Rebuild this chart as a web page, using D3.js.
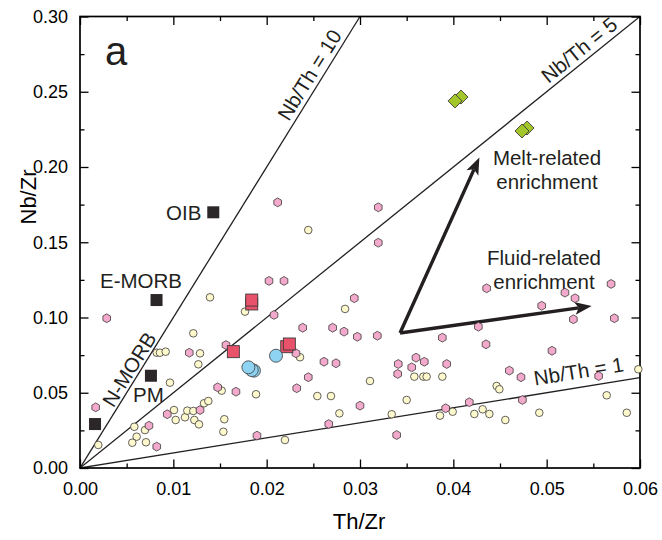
<!DOCTYPE html>
<html lang="en">
  <head>
    <meta charset="utf-8" />
    <title>Nb/Zr vs Th/Zr</title>
    <script src="https://d3js.org/d3.v7.min.js"></script>
    <style>
      body { margin: 0; background: #fff; }
      text { font-family: "Liberation Sans", Arial, sans-serif; }
    </style>
  </head>
  <body>
    <script>
      // data, [Th/Zr, Nb/Zr]
      var pinkPts = [
        [0.00286,0.0995],[0.01171,0.0766],[0.01475,0.0536],[0.00168,0.0403],[0.00739,0.0281],
        [0.00822,0.0142],[0.00935,0.0357],[0.01286,0.0385],[0.01564,0.0817],[0.02025,0.1243],
        [0.02186,0.1243],[0.02079,0.1017],[0.02386,0.0932],[0.02707,0.0932],[0.02829,0.0906],
        [0.02314,0.0762],[0.02614,0.0706],[0.02743,0.0696],[0.02446,0.0603],[0.02322,0.0530],
        [0.02665,0.0292],[0.01671,0.0507],[0.01896,0.0215],[0.02939,0.1128],[0.02971,0.0872],
        [0.03186,0.0879],[0.03882,0.0866],[0.03410,0.0691],[0.03600,0.0733],[0.03554,0.0669],
        [0.03689,0.0706],[0.03929,0.0691],[0.03404,0.0625],[0.03000,0.0414],[0.03918,0.0397],
        [0.04171,0.0437],[0.03393,0.0219],[0.04357,0.1194],[0.05690,0.1223],[0.05196,0.1165],
        [0.05304,0.1128],[0.04947,0.1078],[0.05286,0.0988],[0.05725,0.0995],[0.04268,0.0939],
        [0.04350,0.0822],[0.05057,0.0779],[0.04600,0.0647],[0.04725,0.0603],[0.05557,0.0611],
        [0.04740,0.0452],[0.02118,0.1765],[0.03196,0.1732],[0.03196,0.1497]
      ];
      var yellowPts = [
        [0.01393,0.1134],[0.01214,0.0895],[0.00822,0.0766],[0.00857,0.0766],[0.00918,0.0773],
        [0.01286,0.0762],[0.01268,0.0689],[0.00964,0.0567],[0.01518,0.0514],[0.00582,0.0274],
        [0.00696,0.0252],[0.00607,0.0208],[0.00560,0.0168],[0.00707,0.0171],[0.00196,0.0153],
        [0.01007,0.0385],[0.01025,0.0319],[0.01125,0.0337],[0.01150,0.0381],[0.01214,0.0379],
        [0.01329,0.0430],[0.01375,0.0445],[0.01225,0.0319],[0.01275,0.0290],[0.01536,0.0241],
        [0.01546,0.0324],[0.01768,0.1039],[0.02840,0.1057],[0.02357,0.0736],[0.02543,0.0478],
        [0.02689,0.0478],[0.02779,0.0363],[0.01886,0.0490],[0.02196,0.0186],[0.03582,0.0607],
        [0.03679,0.0607],[0.03714,0.0607],[0.03882,0.0607],[0.03107,0.0578],[0.03500,0.0452],
        [0.03340,0.0357],[0.03993,0.0374],[0.03857,0.0348],[0.04225,0.0359],[0.05982,0.0656],
        [0.04464,0.0545],[0.04493,0.0523],[0.05643,0.0483],[0.04314,0.0390],[0.04386,0.0359],
        [0.04557,0.0319],[0.04921,0.0367],[0.05858,0.0367],[0.02446,0.1581]
      ];
      var redPts = [[0.0184,0.1090],[0.0184,0.1116],[0.01643,0.0773],[0.02215,0.0806],[0.02243,0.0824]];
      var bluePts = [[0.01864,0.0647],[0.0184,0.0651],[0.01804,0.0669],[0.0210,0.0746]];
      var greenPts = [[0.0479,0.2259],[0.04736,0.2239],[0.04082,0.2465],[0.04018,0.2439]];
      var refNames = ["N-MORB", "E-MORB", "PM", "OIB"];
      var refPts = [[0.00161,0.0292],[0.0082,0.1116],[0.0076,0.0613],[0.01428,0.1699]];
      var ratioLines = [10, 5, 1];
      var xTicks = [0, 0.01, 0.02, 0.03, 0.04, 0.05, 0.06];
      var yTicks = [0, 0.05, 0.10, 0.15, 0.20, 0.25, 0.30];
      var arrowBase = [0.03429, 0.0897];
      var meltTip = [0.04279, 0.2063];
      var fluidTip = [0.05482, 0.1076];

      var width = 662, height = 540;
      var ink = "#231f20";

      var x = d3.scaleLinear().domain([0, 0.06]).range([80, 640]);
      var y = d3.scaleLinear().domain([0, 0.3]).range([468, 16.5]);

      var svg = d3.select("body").append("svg")
        .attr("width", width)
        .attr("height", height);

      svg.append("defs").append("clipPath").attr("id", "plot")
        .append("rect")
        .attr("x", x(0)).attr("y", y(0.3))
        .attr("width", x(0.06) - x(0)).attr("height", y(0) - y(0.3));

      // ratio lines
      var lineEnd = function (r) {
        return r >= 5 ? [0.3 / r, 0.3] : [0.06, 0.06 * r];
      };
      svg.append("g").attr("clip-path", "url(#plot)")
        .selectAll("line").data(ratioLines).enter().append("line")
        .attr("x1", x(0)).attr("y1", y(0))
        .attr("x2", function (r) { return x(lineEnd(r)[0]); })
        .attr("y2", function (r) { return y(lineEnd(r)[1]); })
        .style("stroke", ink)
        .style("stroke-width", 1.3);

      // labels that sit on a line
      function lineLabel(r, tx, txt, gap) {
        var px = x(tx), py = y(tx * r);
        var ang = Math.atan2(y(r * 0.01) - y(0), x(0.01) - x(0)) * 180 / Math.PI;
        svg.append("text")
          .attr("transform", "translate(" + px + "," + py + ") rotate(" + ang + ")")
          .attr("dy", -gap)
          .attr("text-anchor", "middle")
          .style("font-size", "20.5px")
          .style("fill", ink)
          .text(txt);
      }
      lineLabel(10, 0.0257, "Nb/Th = 10", 5);
      lineLabel(5, 0.0543, "Nb/Th = 5", 5);
      lineLabel(1, 0.0537, "Nb/Th = 1", 9);
      lineLabel(10, 0.0062, "N-MORB", 3);

      // axes, ticks inward on all sides
      function minor(step, max) {
        return d3.range(step / 2, max, step);
      }
      var frame = svg.append("g");
      frame.append("g").attr("transform", "translate(0," + y(0) + ")")
        .call(d3.axisBottom(x).tickValues(minor(0.01, 0.06)).tickSize(-4.5).tickFormat(""));
      frame.append("g").attr("transform", "translate(0," + y(0) + ")")
        .call(d3.axisBottom(x).tickValues(xTicks).tickSize(-8.5).tickPadding(14.5).tickFormat(d3.format(".2f")));
      frame.append("g").attr("transform", "translate(0," + y(0.3) + ")")
        .call(d3.axisTop(x).tickValues(minor(0.01, 0.06)).tickSize(-4.5).tickFormat(""));
      frame.append("g").attr("transform", "translate(0," + y(0.3) + ")")
        .call(d3.axisTop(x).tickValues(xTicks).tickSize(-8.5).tickFormat(""));
      frame.append("g").attr("transform", "translate(" + x(0) + ",0)")
        .call(d3.axisLeft(y).tickValues(minor(0.05, 0.3)).tickSize(-4.5).tickFormat(""));
      frame.append("g").attr("transform", "translate(" + x(0) + ",0)")
        .call(d3.axisLeft(y).tickValues(yTicks).tickSize(-8.5).tickPadding(12).tickFormat(d3.format(".2f")));
      frame.append("g").attr("transform", "translate(" + x(0.06) + ",0)")
        .call(d3.axisRight(y).tickValues(minor(0.05, 0.3)).tickSize(-4.5).tickFormat(""));
      frame.append("g").attr("transform", "translate(" + x(0.06) + ",0)")
        .call(d3.axisRight(y).tickValues(yTicks).tickSize(-8.5).tickFormat(""));
      frame.selectAll(".domain").remove();
      frame.selectAll(".tick line").style("stroke", "#000").style("stroke-width", 1.3);
      frame.selectAll(".tick text")
        .style("font-size", "18px")
        .style("font-family", "'Liberation Sans', Arial, sans-serif")
        .style("fill", "#000");

      svg.append("rect")
        .attr("x", x(0)).attr("y", y(0.3))
        .attr("width", x(0.06) - x(0)).attr("height", y(0) - y(0.3))
        .style("fill", "none")
        .style("stroke", "#000")
        .style("stroke-width", 1.7);

      svg.append("text")
        .attr("x", 359).attr("y", 529)
        .attr("text-anchor", "middle")
        .style("font-size", "22px")
        .text("Th/Zr");
      svg.append("text")
        .attr("transform", "translate(36,197) rotate(-90)")
        .attr("text-anchor", "middle")
        .style("font-size", "22px")
        .text("Nb/Zr");

      svg.append("text")
        .attr("x", 105).attr("y", 65)
        .style("font-size", "40px")
        .style("fill", ink)
        .text("a");

      // arrows
      function arrow(from, to) {
        var x0 = x(from[0]), y0 = y(from[1]), x1 = x(to[0]), y1 = y(to[1]);
        var len = Math.hypot(x1 - x0, y1 - y0);
        var ux = (x1 - x0) / len, uy = (y1 - y0) / len;
        var nx = -uy, ny = ux;
        var hl = 17, hw = 6.5, notch = 4;
        svg.append("line")
          .attr("x1", x0).attr("y1", y0)
          .attr("x2", x1 - (hl - notch) * ux).attr("y2", y1 - (hl - notch) * uy)
          .style("stroke", ink)
          .style("stroke-width", 3.4);
        var head = [
          [x1, y1],
          [x1 - hl * ux + hw * nx, y1 - hl * uy + hw * ny],
          [x1 - (hl - notch) * ux, y1 - (hl - notch) * uy],
          [x1 - hl * ux - hw * nx, y1 - hl * uy - hw * ny]
        ];
        svg.append("path")
          .attr("d", "M" + head.join("L") + "Z")
          .style("fill", ink);
      }
      arrow(arrowBase, meltTip);
      arrow(arrowBase, fluidTip);

      function twoLines(cx, yTop, lines) {
        var t = svg.append("text")
          .attr("text-anchor", "middle")
          .style("font-size", "20.5px")
          .style("fill", ink);
        lines.forEach(function (s, i) {
          t.append("tspan").attr("x", cx).attr("y", yTop + i * 23.5).text(s);
        });
      }
      twoLines(547, 165, ["Melt-related", "enrichment"]);
      twoLines(544, 265, ["Fluid-related", "enrichment"]);

      // markers
      var hex = function (r) {
        var p = d3.range(6).map(function (k) {
          var a = Math.PI / 2 + k * Math.PI / 3;
          return [r * Math.cos(a), r * Math.sin(a)];
        });
        return "M" + p.join("L") + "Z";
      };
      var pts = svg.append("g");
      pts.selectAll(".yel").data(yellowPts).enter().append("circle")
        .attr("class", "yel")
        .attr("cx", function (d) { return x(d[0]); })
        .attr("cy", function (d) { return y(d[1]); })
        .attr("r", 3.8)
        .style("fill", "#fdf9cc")
        .style("stroke", "#3d3a3a")
        .style("stroke-width", 0.8);
      pts.selectAll(".pink").data(pinkPts).enter().append("path")
        .attr("class", "pink")
        .attr("d", hex(4.4))
        .attr("transform", function (d) { return "translate(" + x(d[0]) + "," + y(d[1]) + ")"; })
        .style("fill", "#f3a9cb")
        .style("stroke", "#3d3a3a")
        .style("stroke-width", 0.8);
      pts.selectAll(".red").data(redPts).enter().append("rect")
        .attr("class", "red")
        .attr("x", function (d) { return x(d[0]) - 6; })
        .attr("y", function (d) { return y(d[1]) - 6; })
        .attr("width", 12).attr("height", 12)
        .style("fill", "#e9526b")
        .style("stroke", "#3d3a3a")
        .style("stroke-width", 0.9);
      pts.selectAll(".blue").data(bluePts).enter().append("circle")
        .attr("class", "blue")
        .attr("cx", function (d) { return x(d[0]); })
        .attr("cy", function (d) { return y(d[1]); })
        .attr("r", 6.5)
        .style("fill", "#8fd3f2")
        .style("stroke", "#4a4a4a")
        .style("stroke-width", 0.9);
      pts.selectAll(".green").data(greenPts).enter().append("path")
        .attr("class", "green")
        .attr("d", "M0,-7L7,0L0,7L-7,0Z")
        .attr("transform", function (d) { return "translate(" + x(d[0]) + "," + y(d[1]) + ")"; })
        .style("fill", "#a3c72a")
        .style("stroke", "#3d3a3a")
        .style("stroke-width", 0.9);
      pts.selectAll(".ref").data(refPts).enter().append("rect")
        .attr("class", "ref")
        .attr("x", function (d) { return x(d[0]) - 6; })
        .attr("y", function (d) { return y(d[1]) - 6; })
        .attr("width", 12).attr("height", 12)
        .style("fill", "#2b2627");

      // names of the reference squares
      var refLabelPos = { "E-MORB": [100, 288], "PM": [133, 402], "OIB": [166, 220] };
      refNames.forEach(function (n) {
        if (!refLabelPos[n]) return;
        svg.append("text")
          .attr("x", refLabelPos[n][0]).attr("y", refLabelPos[n][1])
          .style("font-size", "20.5px")
          .style("fill", ink)
          .text(n);
      });
    </script>
  </body>
</html>
